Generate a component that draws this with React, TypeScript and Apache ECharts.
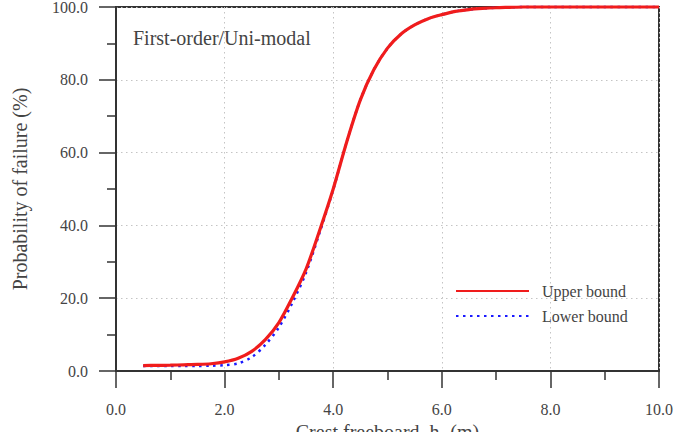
import React, { useEffect, useRef } from "react";
import * as echarts from "echarts";

const xValues = [0.5, 0.75, 1.0, 1.25, 1.5, 1.75, 2.0, 2.25, 2.5, 2.75, 3.0, 3.25, 3.5, 3.75, 4.0, 4.25, 4.5, 4.75, 5.0, 5.25, 5.5, 5.75, 6.0, 6.25, 6.5, 6.75, 7.0, 7.25, 7.5, 8.0, 8.5, 9.0, 9.5, 10.0];
const upperBound = [1.5, 1.55, 1.6, 1.7, 1.8, 2.0, 2.5, 3.5, 5.4, 8.6, 13.3, 20.2, 28.0, 38.6, 50.0, 63.0, 74.5, 82.8, 88.7, 92.6, 95.1, 96.8, 97.9, 98.8, 99.3, 99.6, 99.8, 99.9, 100, 100, 100, 100, 100, 100];
const lowerBound = [1.4, 1.4, 1.4, 1.4, 1.4, 1.45, 1.6, 2.1, 3.8, 7.2, 12.0, 18.8, 27.0, 38.0, 49.8, 63.0, 74.5, 82.8, 88.7, 92.6, 95.1, 96.8, 97.9, 98.8, 99.3, 99.6, 99.8, 99.9, 100, 100, 100, 100, 100, 100];
const seriesNames = ["Upper bound", "Lower bound"];
const titleText = "First-order/Uni-modal";
const xAxisName = "Crest freeboard, h";
const yAxisName = "Probability of failure (%)";

const FONT = "Liberation Serif";
const TXT = "#444";

export default function App() {
  const ref = useRef<HTMLDivElement>(null);
  useEffect(() => {
    document.body.style.margin = "0";
    const chart = echarts.init(ref.current!, null, { renderer: "svg" });
    const axisCommon = {
      type: "value" as const,
      axisLine: { show: true, lineStyle: { color: "#333", width: 2 } },
      axisTick: { show: true, inside: false, length: 17, lineStyle: { color: "#333", width: 1.5 } },
      minorTick: { show: true, splitNumber: 2, length: 9, lineStyle: { color: "#333", width: 1.5 } },
      splitLine: { show: true, lineStyle: { color: "#c4c4c4", type: [1.5, 3.5] as any, width: 1 } },
      axisLabel: {
        fontFamily: FONT,
        fontSize: 16,
        color: TXT,
        formatter: (v: number) => v.toFixed(1),
      },
      nameTextStyle: { fontFamily: FONT, fontSize: 20, color: TXT },
    };
    chart.setOption({
      animation: false,
      backgroundColor: "#fff",
      grid: {
        left: 116,
        right: 18,
        top: 7,
        bottom: 61,
        show: true,
        borderColor: "#333",
        borderWidth: 2,
        outerBoundsMode: "none",
      } as any,
      title: {
        text: titleText,
        left: 128,
        top: 23,
        textStyle: { fontFamily: FONT, fontSize: 20, fontWeight: "normal", color: TXT },
      },
      legend: {
        data: seriesNames,
        orient: "vertical",
        left: 455,
        top: 283,
        padding: 0,
        itemWidth: 73,
        itemHeight: 14,
        itemGap: 9,
        itemStyle: { opacity: 0 },
        textStyle: { fontFamily: FONT, fontSize: 16, color: TXT, padding: [0, 0, 0, 8] },
      },
      xAxis: {
        ...axisCommon,
        min: 0,
        max: 10,
        interval: 2,
        axisLabel: { ...axisCommon.axisLabel, margin: 30 },
        name: xAxisName + "{sub|c} (m)",
        nameLocation: "middle",
        nameGap: 49,
        nameTextStyle: {
          ...axisCommon.nameTextStyle,
          verticalAlign: "top",
          rich: { sub: { fontFamily: FONT, fontSize: 13, color: TXT, verticalAlign: "bottom", padding: [0, 0, -16, 0] } },
        },
      },
      yAxis: {
        ...axisCommon,
        min: 0,
        max: 100,
        interval: 20,
        axisLabel: { ...axisCommon.axisLabel, margin: 28 },
        name: yAxisName,
        nameLocation: "middle",
        nameGap: 86,
      },
      series: [
        {
          name: seriesNames[0],
          type: "line",
          data: xValues.map((x, i) => [x, upperBound[i]]),
          symbol: "none",
          smooth: 0.3,
          clip: false,
          z: 3,
          itemStyle: { color: "#f01c1c" },
          lineStyle: { color: "#f01c1c", width: 3.2 },
        },
        {
          name: seriesNames[1],
          type: "line",
          data: xValues.map((x, i) => [x, lowerBound[i]]),
          symbol: "none",
          smooth: 0.3,
          clip: false,
          z: 2,
          itemStyle: { color: "#1a1aff" },
          lineStyle: { color: "#1a1aff", width: 2.5, type: [2.5, 4.5] },
        },
      ],
    });
    return () => chart.dispose();
  }, []);
  return <div ref={ref} style={{ width: 677, height: 432 }} />;
}
